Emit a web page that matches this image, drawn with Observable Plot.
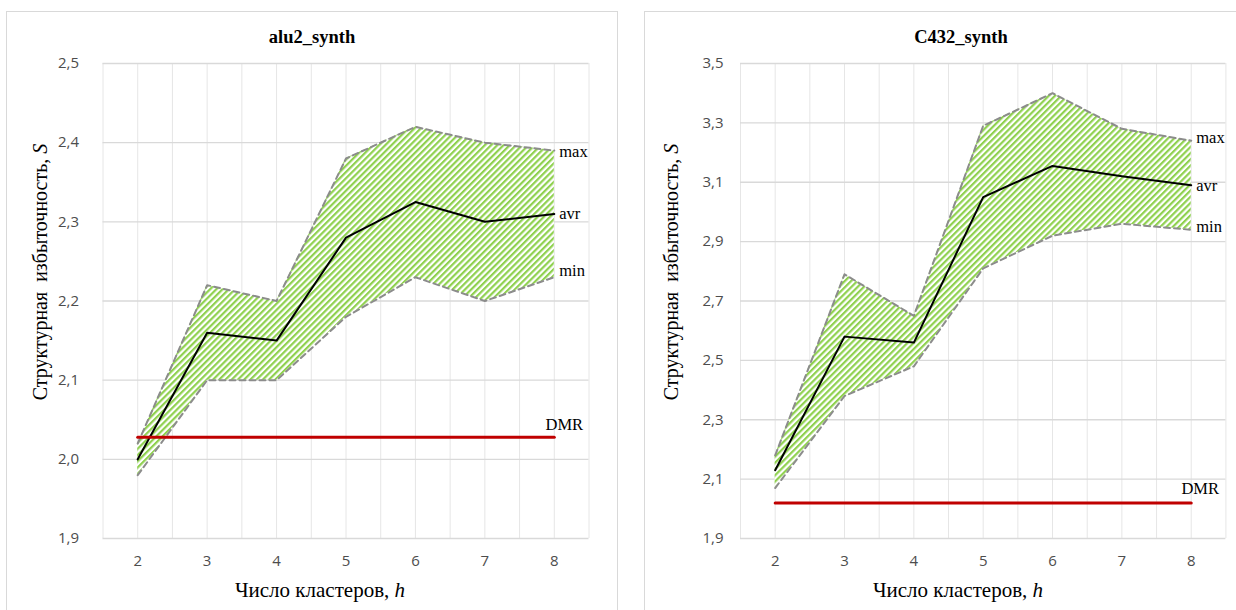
<!DOCTYPE html>
<html>
<head>
<meta charset="utf-8">
<script src="https://cdn.jsdelivr.net/npm/d3@7"></script>
<script src="https://cdn.jsdelivr.net/npm/@observablehq/plot@0.6"></script>
<style>
  html, body { margin: 0; padding: 0; background: #fff; width: 1236px; height: 610px; overflow: hidden; }
  .panel { position: absolute; top: 11px; height: 640px; border: 1px solid #d9d9d9; box-sizing: border-box; background: #fff; }
  .title { position: absolute; top: 26px; width: 300px; text-align: center; font-family: "Liberation Serif", "Times New Roman", serif; font-weight: bold; font-size: 18.5px; color: #000; line-height: 22px; }
  .chart { position: absolute; top: 50px; }
  .chart svg { overflow: visible; }
</style>
</head>
<body>
<div class="panel" style="left:6px; width:612px;"></div>
<div class="panel" style="left:644px; width:640px;"></div>
<div class="title" style="left:162px;">alu2_synth</div>
<div class="title" style="left:811px;">C432_synth</div>
<div class="chart" id="c1" style="left:6px;"></div>
<div class="chart" id="c2" style="left:645px;"></div>
<script>
// ---- data ----
const hs = [2, 3, 4, 5, 6, 7, 8];
const xTicks = [2, 3, 4, 5, 6, 7, 8];
const xGrid = [1.5, 2, 2.5, 3, 3.5, 4, 4.5, 5, 5.5, 6, 6.5, 7, 7.5, 8, 8.5];

const aluMax = [2.02, 2.22, 2.20, 2.38, 2.42, 2.40, 2.39];
const aluAvr = [2.00, 2.16, 2.15, 2.28, 2.325, 2.30, 2.31];
const aluMin = [1.98, 2.10, 2.10, 2.18, 2.23, 2.20, 2.23];
const aluDMR = 2.028;
const aluTicks = [1.9, 2.0, 2.1, 2.2, 2.3, 2.4, 2.5];

const cMax = [2.18, 2.79, 2.65, 3.29, 3.40, 3.28, 3.24];
const cAvr = [2.13, 2.58, 2.56, 3.05, 3.155, 3.12, 3.09];
const cMin = [2.07, 2.38, 2.48, 2.81, 2.92, 2.96, 2.94];
const cDMR = 2.02;
const cTicks = [1.9, 2.1, 2.3, 2.5, 2.7, 2.9, 3.1, 3.3, 3.5];

const seriesLabels = ["max", "avr", "min"];
const yTitle = "Структурная  избыточность, ";
const yTitleVar = "S";
const xTitle = "Число кластеров, ";
const xTitleVar = "h";

const serif = '"Liberation Serif", "Times New Roman", serif';
const sans = '"Liberation Sans Narrow", "Open Sans", sans-serif';

function makeChart(cfg) {
  const rows = hs.map((h, i) => ({h, max: cfg.max[i], avr: cfg.avr[i], min: cfg.min[i]}));
  const last = rows[rows.length - 1];
  const dmrRows = [hs[0], hs[hs.length - 1]].map(h => ({h, v: cfg.dmr}));
  const labelRows = [
    {h: last.h, v: last.max, t: seriesLabels[0], dy: cfg.dyMax},
    {h: last.h, v: last.avr, t: seriesLabels[1], dy: cfg.dyAvr},
    {h: last.h, v: last.min, t: seriesLabels[2], dy: cfg.dyMin}
  ];
  const fmt = d => d.toFixed(1).replace(".", ",");
  const svg = Plot.plot({
    width: cfg.width,
    height: 560,
    marginLeft: cfg.ml,
    marginRight: cfg.mr,
    marginTop: 13,
    marginBottom: 72,
    style: {background: "transparent", overflow: "visible"},
    x: {domain: [1.5, 8.5], ticks: xTicks, tickSize: 0, tickPadding: 17, tickFormat: d => String(d), label: null},
    y: {domain: [cfg.ticks[0], cfg.ticks[cfg.ticks.length - 1]], ticks: cfg.ticks, tickSize: 0, tickPadding: cfg.tp, tickFormat: fmt, label: null},
    marks: [
      Plot.ruleX(xGrid, {stroke: "#e6e6e6", strokeWidth: 1}),
      Plot.ruleY(cfg.ticks, {stroke: "#d9d9d9", strokeWidth: 1.3}),
      Plot.areaY(rows, {x: "h", y1: "min", y2: "max", fill: `url(#${cfg.id})`}),
      Plot.line(rows, {x: "h", y: "max", stroke: "#8c8c8c", strokeWidth: 2, strokeDasharray: "6,4"}),
      Plot.line(rows, {x: "h", y: "min", stroke: "#8c8c8c", strokeWidth: 2, strokeDasharray: "6,4"}),
      Plot.line(rows, {x: "h", y: "avr", stroke: "#000", strokeWidth: 2}),
      Plot.line(dmrRows, {x: "h", y: "v", stroke: "#c00000", strokeWidth: 3}),
      Plot.text(labelRows, {x: "h", y: "v", text: "t", textAnchor: "start", dx: 5, fontFamily: serif, fontSize: 16.5, fill: "#000"}),
      Plot.text([{h: last.h, v: cfg.dmr}], {x: "h", y: "v", text: () => "DMR", textAnchor: "middle", dx: cfg.dmrDx, dy: cfg.dmrDy, fontFamily: serif, fontSize: 16.5, fill: "#000"})
    ]
  });
  const s = d3.select(svg);
  s.selectAll("g[aria-label='x-axis tick label'], g[aria-label='y-axis tick label']")
    .attr("font-family", sans).attr("font-size", 15).attr("fill", "#4d4d4d");
  const defs = s.insert("defs", ":first-child");
  const p = defs.append("pattern").attr("id", cfg.id).attr("patternUnits", "userSpaceOnUse")
    .attr("width", 4.4).attr("height", 4.4).attr("patternTransform", "rotate(45)");
  p.append("rect").attr("width", 4.4).attr("height", 4.4).attr("fill", "#fff");
  p.append("rect").attr("width", 2.2).attr("height", 4.4).attr("fill", "#8fd14f");
  // per-label vertical offsets
  const textGroups = s.selectAll("g[aria-label='text']").nodes();
  if (textGroups.length) {
    d3.select(textGroups[0]).selectAll("text").each(function(_, i) {
      const dy = labelRows[i].dy;
      d3.select(this).attr("transform", (d3.select(this).attr("transform") || "") + ` translate(0,${dy})`);
    });
  }
  // axis titles
  const yt = s.append("text").attr("transform", `translate(${cfg.ytx},222) rotate(-90)`)
    .attr("text-anchor", "middle").attr("dominant-baseline", "middle")
    .attr("font-family", serif).attr("font-size", 20).attr("fill", "#000")
    .style("white-space", "pre");
  yt.append("tspan").text(yTitle);
  yt.append("tspan").attr("font-style", "italic").text(yTitleVar);
  const xt = s.append("text").attr("x", cfg.xtx).attr("y", 542)
    .attr("text-anchor", "middle").attr("dominant-baseline", "middle")
    .attr("font-family", serif).attr("font-size", 21).attr("fill", "#000");
  xt.append("tspan").text(xTitle);
  xt.append("tspan").attr("font-style", "italic").text(xTitleVar);
  return svg;
}

document.getElementById("c1").appendChild(makeChart({
  id: "hatchA", width: 611, ml: 96.5, mr: 28.5, tp: 24,
  max: aluMax, avr: aluAvr, min: aluMin, dmr: aluDMR, ticks: aluTicks,
  dyMax: 1, dyAvr: 0, dyMin: -7, dmrDx: 10, dmrDy: -12, ytx: 36, xtx: 314
}));
document.getElementById("c2").appendChild(makeChart({
  id: "hatchB", width: 591, ml: 95, mr: 10.6, tp: 17,
  max: cMax, avr: cAvr, min: cMin, dmr: cDMR, ticks: cTicks,
  dyMax: -3, dyAvr: 0, dyMin: -3, dmrDx: 9, dmrDy: -14, ytx: 28, xtx: 313
}));
</script>
</body>
</html>
